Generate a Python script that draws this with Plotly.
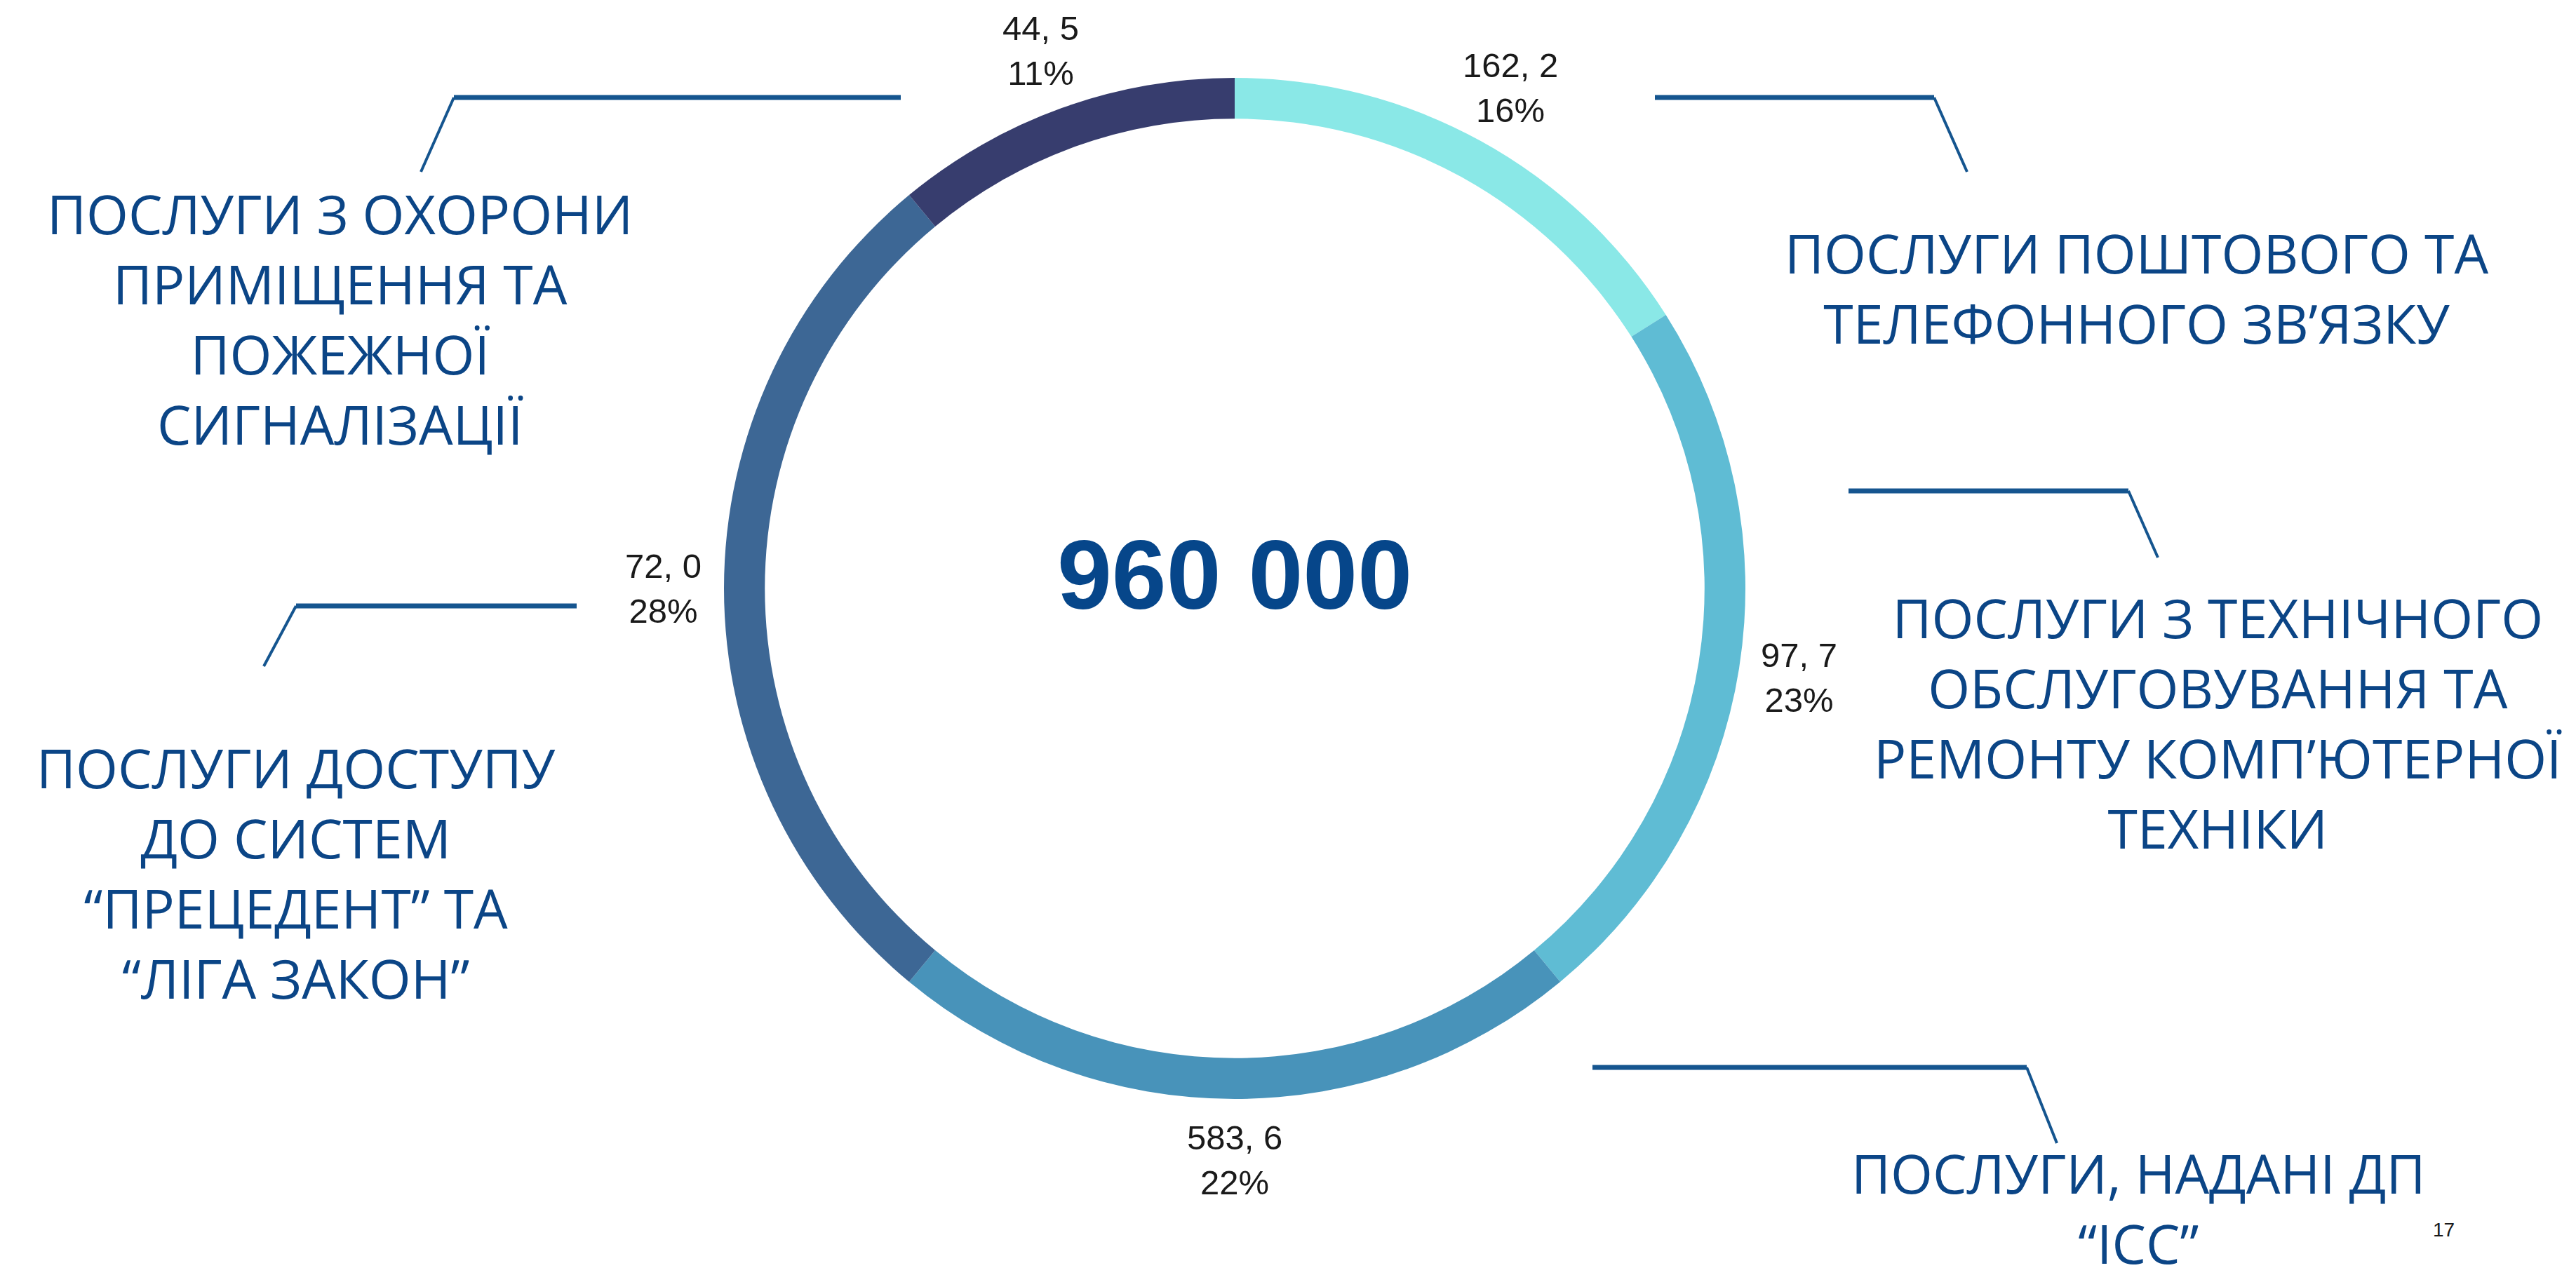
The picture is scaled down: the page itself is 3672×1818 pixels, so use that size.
import math
import plotly.graph_objects as go

W, H = 3672, 1818

# slice data (clockwise from 12 o'clock)
categories = [
    "ПОСЛУГИ ПОШТОВОГО ТА ТЕЛЕФОННОГО ЗВ’ЯЗКУ",
    "ПОСЛУГИ З ТЕХНІЧНОГО ОБСЛУГОВУВАННЯ ТА РЕМОНТУ КОМП’ЮТЕРНОЇ ТЕХНІКИ",
    "ПОСЛУГИ, НАДАНІ ДП “ІСС”",
    "ПОСЛУГИ ДОСТУПУ ДО СИСТЕМ “ПРЕЦЕДЕНТ” ТА “ЛІГА ЗАКОН”",
    "ПОСЛУГИ З ОХОРОНИ ПРИМІЩЕННЯ ТА ПОЖЕЖНОЇ СИГНАЛІЗАЦІЇ",
]
shares = [16, 23, 22, 28, 11]
amounts = ["162, 2", "97, 7", "583, 6", "72, 0", "44, 5"]
colors = ["#8AE8E7", "#5FBCD4", "#4893BA", "#3D6795", "#373D6E"]
total_label = "960 000"

# big category captions: (text, x px, y px)
captions = [
    ("ПОСЛУГИ З ОХОРОНИ<br>ПРИМІЩЕННЯ ТА<br>ПОЖЕЖНОЇ<br>СИГНАЛІЗАЦІЇ", 476, 446),
    ("ПОСЛУГИ ПОШТОВОГО ТА<br>ТЕЛЕФОННОГО ЗВ’ЯЗКУ", 3037, 402),
    ("ПОСЛУГИ З ТЕХНІЧНОГО<br>ОБСЛУГОВУВАННЯ ТА<br>РЕМОНТУ КОМП’ЮТЕРНОЇ<br>ТЕХНІКИ", 3153, 1022),
    ("ПОСЛУГИ ДОСТУПУ<br>ДО СИСТЕМ<br>“ПРЕЦЕДЕНТ” ТА<br>“ЛІГА ЗАКОН”", 414, 1236),
    ("ПОСЛУГИ, НАДАНІ ДП<br>“ІСС”", 3040, 1714),
]

# connector polylines in px: horizontal start, corner, diagonal end
connectors = [
    [(1276, 131), (639, 131), (592, 237)],
    [(2351, 131), (2749, 131), (2796, 237)],
    [(2627, 692), (3026, 692), (3068, 787)],
    [(814, 856), (414, 856), (368, 942)],
    [(2262, 1514), (2881, 1514), (2924, 1622)],
]

TEXT_BLUE = "#0B4586"
LINE_BLUE = "#15558F"

# pie geometry (px)
CX, CY, R_OUT = 1752, 831, 728
R_LABEL = 815


def px(x, y):
    return x / W, 1 - y / H


fig = go.Figure()
fig.add_trace(go.Pie(
    labels=categories,
    values=shares,
    sort=False,
    direction="clockwise",
    rotation=0,
    hole=0.92,
    marker=dict(colors=colors, line=dict(width=0)),
    textinfo="none",
    showlegend=False,
    hoverinfo="label+percent",
    domain=dict(x=[(CX - R_OUT) / W, (CX + R_OUT) / W],
                y=[1 - (CY + R_OUT) / H, 1 - (CY - R_OUT) / H]),
))

shapes = []
for pts in connectors:
    (x0, y0), (x1, y1), (x2, y2) = [px(*p) for p in pts]
    shapes.append(dict(type="line", xref="paper", yref="paper", x0=x0, y0=y0, x1=x1, y1=y1,
                       line=dict(color=LINE_BLUE, width=7)))
    shapes.append(dict(type="line", xref="paper", yref="paper", x0=x1, y0=y1, x1=x2, y1=y2,
                       line=dict(color=LINE_BLUE, width=4)))

annotations = []

# value labels outside each slice, at the slice's mid angle
total = sum(shares)
cum = 0
for share, amount in zip(shares, amounts):
    mid = (cum + share / 2) / total * 2 * math.pi
    cum += share
    lx = CX + R_LABEL * math.sin(mid)
    ly = CY - R_LABEL * math.cos(mid)
    ax, ay = px(lx, ly)
    annotations.append(dict(
        x=ax, y=ay, xref="paper", yref="paper",
        text="%s<br>%d%%" % (amount, round(share / total * 100)), showarrow=False,
        xanchor="center", yanchor="middle", align="center",
        font=dict(family="Liberation Sans, Arial", size=49, color="#1a1a1a"),
    ))

for text, x, y in captions:
    ax, ay = px(x, y)
    annotations.append(dict(
        x=ax, y=ay, xref="paper", yref="paper", text=text, showarrow=False,
        xanchor="center", yanchor="middle", align="center",
        font=dict(family="Open Sans", size=77, color=TEXT_BLUE),
    ))

cx, cy = px(1752, 811)
annotations.append(dict(
    x=cx, y=cy, xref="paper", yref="paper", text="<b>%s</b>" % total_label, showarrow=False,
    xanchor="center", yanchor="middle",
    font=dict(family="Liberation Sans, Arial", size=140, color="#06468A"),
))
nx, ny = px(3475, 1745)
annotations.append(dict(
    x=nx, y=ny, xref="paper", yref="paper", text="17", showarrow=False,
    xanchor="center", yanchor="middle",
    font=dict(family="Liberation Sans, Arial", size=28, color="#1a1a1a"),
))

fig.update_layout(
    width=W, height=H,
    margin=dict(l=0, r=0, t=0, b=0),
    paper_bgcolor="white",
    plot_bgcolor="white",
    shapes=shapes,
    annotations=annotations,
)

fig.write_html("out.html")
